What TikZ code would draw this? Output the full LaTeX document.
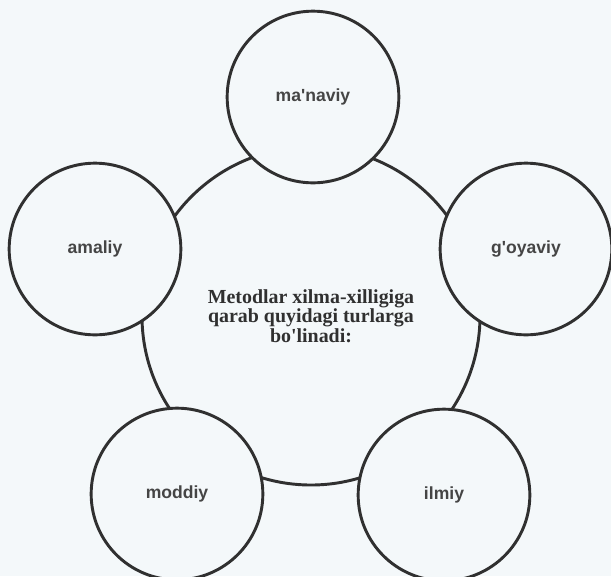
\documentclass[tikz,border=0pt]{standalone}
\usepackage{fontspec}
\setmainfont{Liberation Serif}[Ligatures=TeXOff]
\setsansfont{Liberation Sans}[Ligatures=TeXOff]
\definecolor{paper}{HTML}{F4F8FA}
\definecolor{ink}{HTML}{303030}
\tikzset{
  kind/.style={circle, draw=ink, line width=2.5pt, fill=paper, minimum size=5.15cm, inner sep=0pt,
    font=\sffamily\bfseries\fontsize{15}{17}\selectfont, text=ink!90},
  hub/.style={circle, draw=ink, line width=2.5pt, minimum size=10.14cm, inner sep=0pt, align=center,
    font=\bfseries\fontsize{17}{16.5}\selectfont, text=ink}
}
\begin{document}
\begin{tikzpicture}[x=0.03cm,y=-0.03cm]
\fill[paper] (0,0) rectangle (611,576);
\useasboundingbox (0,0) rectangle (611,576);

\node[hub] (hub) at (311,316) {Metodlar xilma-xilligiga\\qarab quyidagi turlarga\\bo'linadi:};

\node[kind] (manaviy) at (313,97) {ma'naviy};
\node[kind] (goyaviy) at (526,249) {g'oyaviy};
\node[kind] (ilmiy) at (444,495) {ilmiy};
\node[kind] (moddiy) at (177,494) {moddiy};
\node[kind] (amaliy) at (95,249) {amaliy};
\end{tikzpicture}
\end{document}
